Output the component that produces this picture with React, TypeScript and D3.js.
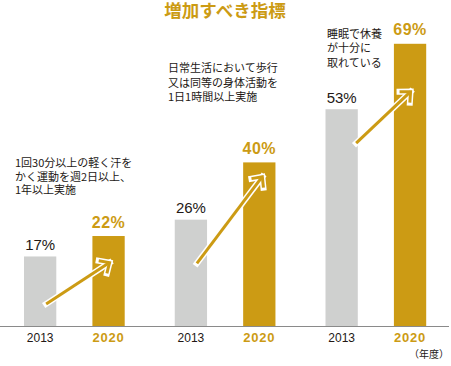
import React from "react";
import * as d3 from "d3";

// Indicators that should increase (share of respondents, %)
const groups = ["exercise", "activity", "rest"];
const years = ["2013", "2020"];
const values2013 = [17, 26, 53];
const values2020 = [22, 40, 69];
const captions = [
  ["1回30分以上の軽く汗を", "かく運動を週2日以上、", "1年以上実施"],
  ["日常生活において歩行", "又は同等の身体活動を", "1日1時間以上実施"],
  ["睡眠で休養", "が十分に", "取れている"],
];
// Arrow endpoints in value units (from the 2013 bar into the 2020 bar)
const arrowFrom = [5.4, 15.3, 44.7];
const arrowTo = [15.5, 36.5, 57.3];

const W = 451;
const H = 366;
const GOLD = "#cc9b14";
const GRAY = "#cfd0cf";
const INK = "#231815";
const JP = "'Noto Sans CJK JP', 'Noto Sans', sans-serif";
const NUM = "'Liberation Sans', Arial, sans-serif";

const baseY = 326;
const y = d3.scaleLinear().domain([0, 100]).range([baseY, baseY - 409]);
const gx = d3.scaleBand<string>().domain(groups).range([24, 24 + 3 * 150.75]);
const bx = d3.scaleBand<string>().domain(years).range([0, 100.7]).paddingInner(0.528);

const captionPos = [
  { x: 15, y: 167, lh: 13.6 },
  { x: 168, y: 72, lh: 14.5 },
  { x: 327, y: 37.5, lh: 14.5 },
];
const arrowStartDx = [6, 6, 14.5];
const arrowEndDx = [1, 3, 0.5];

function Arrow({ x1, y1, x2, y2 }: { x1: number; y1: number; x2: number; y2: number }) {
  const ang = Math.atan2(y2 - y1, x2 - x1);
  const arm = 11;
  const spread = Math.PI / 4.2;
  const p1 = [x2 - arm * Math.cos(ang - spread), y2 - arm * Math.sin(ang - spread)];
  const p2 = [x2 - arm * Math.cos(ang + spread), y2 - arm * Math.sin(ang + spread)];
  const shaft = d3.line()([[x1, y1], [x2, y2]]) as string;
  const head = d3.line()([p1 as [number, number], [x2, y2], p2 as [number, number]]) as string;
  return (
    <g fill="none">
      <path d={shaft} stroke="#fff" strokeWidth={6} strokeLinecap="square" />
      <path d={head} stroke="#fff" strokeWidth={6} strokeLinecap="square" strokeLinejoin="miter" />
      <path d={shaft} stroke={GOLD} strokeWidth={3} strokeLinecap="butt" />
      <path d={head} stroke={GOLD} strokeWidth={3} strokeLinecap="butt" strokeLinejoin="miter" />
    </g>
  );
}

export default function App() {
  const bw = bx.bandwidth();
  return (
    <svg
      width={W}
      height={H}
      viewBox={`0 0 ${W} ${H}`}
      style={{ position: "absolute", left: 0, top: 0, display: "block", background: "#fff" }}
    >
      <text x={225} y={17} textAnchor="middle" fontFamily={JP} fontWeight={700} fontSize={17.5} fill={GOLD}>
        増加すべき指標
      </text>

      {groups.map((g, i) => {
        const g0 = gx(g)!;
        const xa = g0 + bx("2013")!;
        const xb = g0 + bx("2020")!;
        const va = values2013[i];
        const vb = values2020[i];
        const cp = captionPos[i];
        return (
          <g key={g}>
            <rect x={xa} y={y(va)} width={bw} height={baseY - y(va)} fill={GRAY} />
            <rect x={xb} y={y(vb)} width={bw} height={baseY - y(vb)} fill={GOLD} />
            <text x={xa + bw / 2} y={y(va) - 6.5} textAnchor="middle" fontFamily={NUM} fontSize={15} fill={INK}>
              {va}%
            </text>
            <text x={xb + bw / 2} y={y(vb) - 8.5} textAnchor="middle" fontFamily={NUM} fontWeight={700} fontSize={16} letterSpacing={0.5} fill={GOLD}>
              {vb}%
            </text>
            <text x={xa + bw / 2} y={342} textAnchor="middle" fontFamily={NUM} fontSize={12} fill={INK}>
              {years[0]}
            </text>
            <text x={xb + bw / 2} y={342} textAnchor="middle" fontFamily={NUM} fontWeight={700} fontSize={13} letterSpacing={0.8} fill={GOLD}>
              {years[1]}
            </text>
            {captions[i].map((line, j) => (
              <text key={j} x={cp.x} y={cp.y + j * cp.lh} fontFamily={JP} fontSize={11} fill={INK}>
                {line}
              </text>
            ))}
            <Arrow
              x1={xa + bw / 2 + arrowStartDx[i]}
              y1={y(arrowFrom[i])}
              x2={xb + bw / 2 + arrowEndDx[i]}
              y2={y(arrowTo[i])}
            />
          </g>
        );
      })}

      <line x1={0} x2={449} y1={baseY + 0.5} y2={baseY + 0.5} stroke="#8a8a8a" strokeWidth={1} />
      <text x={449} y={358} textAnchor="end" fontFamily={JP} fontSize={10} fill={INK}>
        （年度）
      </text>
    </svg>
  );
}
